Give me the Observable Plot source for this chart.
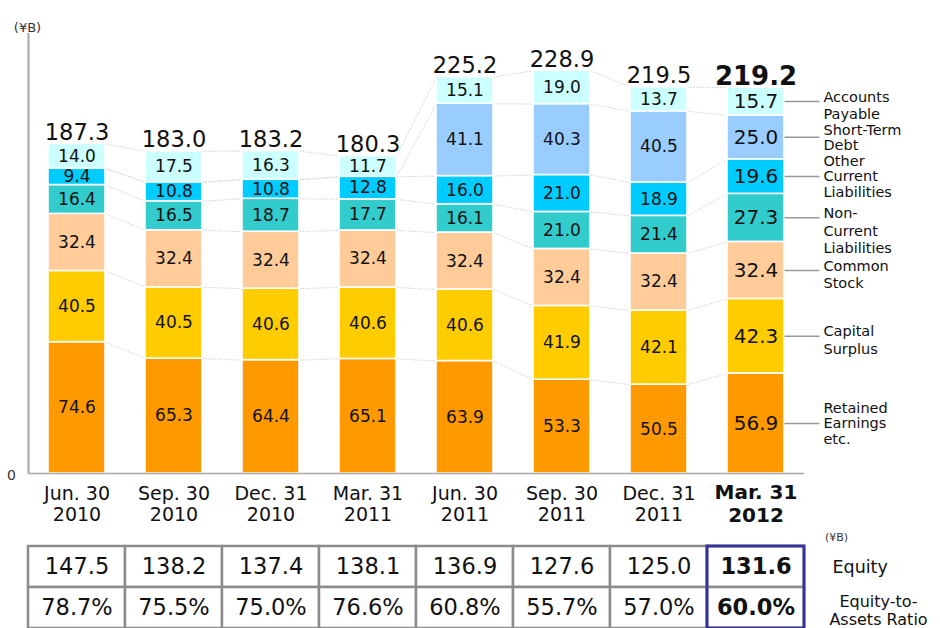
<!DOCTYPE html>
<html>
<head>
<meta charset="utf-8">
<script src="https://cdn.jsdelivr.net/npm/d3@7"></script>
<script src="https://cdn.jsdelivr.net/npm/@observablehq/plot@0.6"></script>
<style>
  html, body { margin: 0; padding: 0; background: #fff; overflow: hidden; }
  #wrap { width: 940px; height: 628px; position: relative; }
  #wrap svg { display: block; }
</style>
</head>
<body>
<div id="wrap"></div>
<script>
// ---- data ----
const periods = ["Jun. 30\n2010", "Sep. 30\n2010", "Dec. 31\n2010", "Mar. 31\n2011",
                 "Jun. 30\n2011", "Sep. 30\n2011", "Dec. 31\n2011", "Mar. 31\n2012"];
const retainedEarnings        = [74.6, 65.3, 64.4, 65.1, 63.9, 53.3, 50.5, 56.9];
const capitalSurplus          = [40.5, 40.5, 40.6, 40.6, 40.6, 41.9, 42.1, 42.3];
const commonStock             = [32.4, 32.4, 32.4, 32.4, 32.4, 32.4, 32.4, 32.4];
const nonCurrentLiabilities   = [16.4, 16.5, 18.7, 17.7, 16.1, 21.0, 21.4, 27.3];
const otherCurrentLiabilities = [9.4, 10.8, 10.8, 12.8, 16.0, 21.0, 18.9, 19.6];
const shortTermDebt           = [0, 0, 0, 0, 41.1, 40.3, 40.5, 25.0];
const accountsPayable         = [14.0, 17.5, 16.3, 11.7, 15.1, 19.0, 13.7, 15.7];
const totalAssets             = [187.3, 183.0, 183.2, 180.3, 225.2, 228.9, 219.5, 219.2];
const equity                  = [147.5, 138.2, 137.4, 138.1, 136.9, 127.6, 125.0, 131.6];
const equityRatio             = [78.7, 75.5, 75.0, 76.6, 60.8, 55.7, 57.0, 60.0];
const seriesNames = ["Retained\nEarnings\netc.", "Capital\nSurplus", "Common\nStock",
                     "Non-\nCurrent\nLiabilities", "Other\nCurrent\nLiabilities",
                     "Short-Term\nDebt", "Accounts\nPayable"];
const seriesColors = ["#ff9900", "#ffcc00", "#ffcc99", "#33cccc", "#00ccff", "#99ccff", "#ccffff"];
const unitLabel = "(¥B)";
const tableRowLabels = ["Equity", "Equity-to-\nAssets Ratio"];

// ---- derived ----
const seriesValues = [retainedEarnings, capitalSurplus, commonStock, nonCurrentLiabilities,
                      otherCurrentLiabilities, shortTermDebt, accountsPayable];
const n = periods.length;
const last = n - 1;
const idx = d3.range(n);
const xDomain = [-0.5, n - 0.5];
const hw = 0.294;          // half bar width in band units
const legendLen = 0.36;    // legend leader length in band units
const centered = new Set([5, 4, 0]);

const segments = [];
idx.forEach(i => {
  let y0 = 0;
  seriesValues.forEach((vals, s) => {
    const v = vals[i];
    segments.push({i, s, value: v, y1: y0, y2: y0 + v});
    y0 += v;
  });
});
const seg = (i, s) => segments[i * seriesValues.length + s];
const connectors = [];
seriesValues.forEach((_, s) => {
  for (let i = 0; i < last; i++) {
    connectors.push({x1: i + hw, x2: i + 1 - hw, y1: seg(i, s).y2, y2: seg(i + 1, s).y2});
  }
});
const lastSegs = segments.filter(d => d.i === last);
const fmt = d3.format(".1f");
const font = "DejaVu Sans, Verdana, sans-serif";

const chart = Plot.plot({
  width: 940, height: 530,
  marginLeft: 28, marginRight: 136, marginTop: 33, marginBottom: 57,
  x: {type: "linear", domain: xDomain, axis: null},
  y: {domain: [0, 250], axis: null},
  style: {fontFamily: font, background: "white", overflow: "visible"},
  marks: [
    Plot.link(connectors, {x1: "x1", x2: "x2", y1: "y1", y2: "y2",
      stroke: "#d0d0d0", strokeWidth: 1, strokeDasharray: "1.5,1.5"}),
    Plot.rectY(segments.filter(d => d.value > 0), {
      x1: d => d.i - hw, x2: d => d.i + hw, y1: "y1", y2: "y2",
      fill: d => seriesColors[d.s], stroke: "white", strokeWidth: 1.6}),
    Plot.text(segments.filter(d => d.value > 0), {
      x: "i", y: d => (d.y1 + d.y2) / 2, text: d => fmt(d.value),
      fontSize: d => d.i === last ? 20 : 17, fill: "#111"}),
    Plot.text(idx.filter(i => i !== last), {
      x: i => i, y: i => totalAssets[i], text: i => fmt(totalAssets[i]),
      lineAnchor: "bottom", dy: -4, fontSize: 22.5, fill: "#111"}),
    Plot.text([last], {
      x: i => i, y: i => totalAssets[i], text: i => fmt(totalAssets[i]),
      lineAnchor: "bottom", dy: -3, fontSize: 26, fontWeight: "bold", fill: "#111"}),
    Plot.ruleX([xDomain[0]], {stroke: "#a8a8a8", strokeWidth: 2}),
    Plot.ruleY([0], {stroke: "#a8a8a8", strokeWidth: 1.5}),
    Plot.text([0], {x: xDomain[0], y: d => d, dx: -17, dy: 2, fontSize: 14, fill: "#333"}),
    Plot.text([unitLabel], {frameAnchor: "top-left", dx: -1, dy: -11, textAnchor: "middle",
      fontSize: 13, fill: "#333"}),
    Plot.text(idx.filter(i => i !== last), {
      x: i => i, y: 0, text: i => periods[i], lineAnchor: "top", dy: 12,
      fontSize: 19, lineHeight: 1.1, fill: "#111"}),
    Plot.text([last], {
      x: i => i, y: 0, text: i => periods[i], lineAnchor: "top", dy: 10,
      fontSize: 20, lineHeight: 1.12, fontWeight: "bold", fill: "#111"}),
    Plot.link(lastSegs, {x1: d => d.i + hw, x2: d => d.i + hw + legendLen,
      y1: d => (d.y1 + d.y2) / 2, y2: d => (d.y1 + d.y2) / 2,
      stroke: "#999", strokeWidth: 1.5}),
    Plot.text(lastSegs.filter(d => centered.has(d.s)), {
      x: d => d.i + hw + legendLen, y: d => (d.y1 + d.y2) / 2,
      text: d => seriesNames[d.s], textAnchor: "start", lineAnchor: "middle", dx: 4,
      fontSize: 14.5, lineHeight: 1.05, fill: "#111"}),
    Plot.text(lastSegs.filter(d => !centered.has(d.s)), {
      x: d => d.i + hw + legendLen, y: d => (d.y1 + d.y2) / 2,
      text: d => seriesNames[d.s], textAnchor: "start", lineAnchor: "top", dy: -12, dx: 4,
      fontSize: 14.5, lineHeight: 1.2, fill: "#111"})
  ]
});

// ---- table ----
const cells = [];
idx.forEach(i => {
  cells.push({i, r: 0, text: fmt(equity[i])});
  cells.push({i, r: 1, text: fmt(equityRatio[i]) + "%"});
});
const table = Plot.plot({
  width: 940, height: 98,
  marginLeft: 28, marginRight: 136, marginTop: 16, marginBottom: 0,
  x: {type: "linear", domain: xDomain, axis: null},
  y: {type: "linear", domain: [0, 2], reverse: true, axis: null},
  style: {fontFamily: font, background: "white", overflow: "visible"},
  marks: [
    Plot.rect(cells, {x1: d => d.i - 0.5, x2: d => d.i + 0.5, y1: "r", y2: d => d.r + 1,
      fill: "white", stroke: "#8c8c8c", strokeWidth: 2.5}),
    Plot.rect([last], {x1: i => i - 0.5, x2: i => i + 0.5, y1: 0, y2: 2,
      fill: "none", stroke: "#333399", strokeWidth: 3}),
    Plot.text(cells.filter(d => d.i !== last), {x: "i", y: d => d.r + 0.5, text: "text",
      fontSize: 22.5, fill: "#111"}),
    Plot.text(cells.filter(d => d.i === last), {x: "i", y: d => d.r + 0.5, text: "text",
      fontSize: 22.5, fontWeight: "bold", fill: "#111"}),
    Plot.text([unitLabel], {frameAnchor: "top-right", dx: 32, dy: -13, textAnchor: "middle",
      fontSize: 11, fill: "#333"}),
    Plot.text([tableRowLabels[0]], {y: 0.5, frameAnchor: "right", dx: 28, textAnchor: "start",
      fontSize: 17.5, fill: "#111"}),
    Plot.text([tableRowLabels[1]], {y: 1.5, frameAnchor: "right", dx: 74, dy: 2,
      textAnchor: "middle", lineHeight: 1.12, fontSize: 16, fill: "#111"})
  ]
});

document.getElementById("wrap").append(chart, table);
</script>
</body>
</html>
